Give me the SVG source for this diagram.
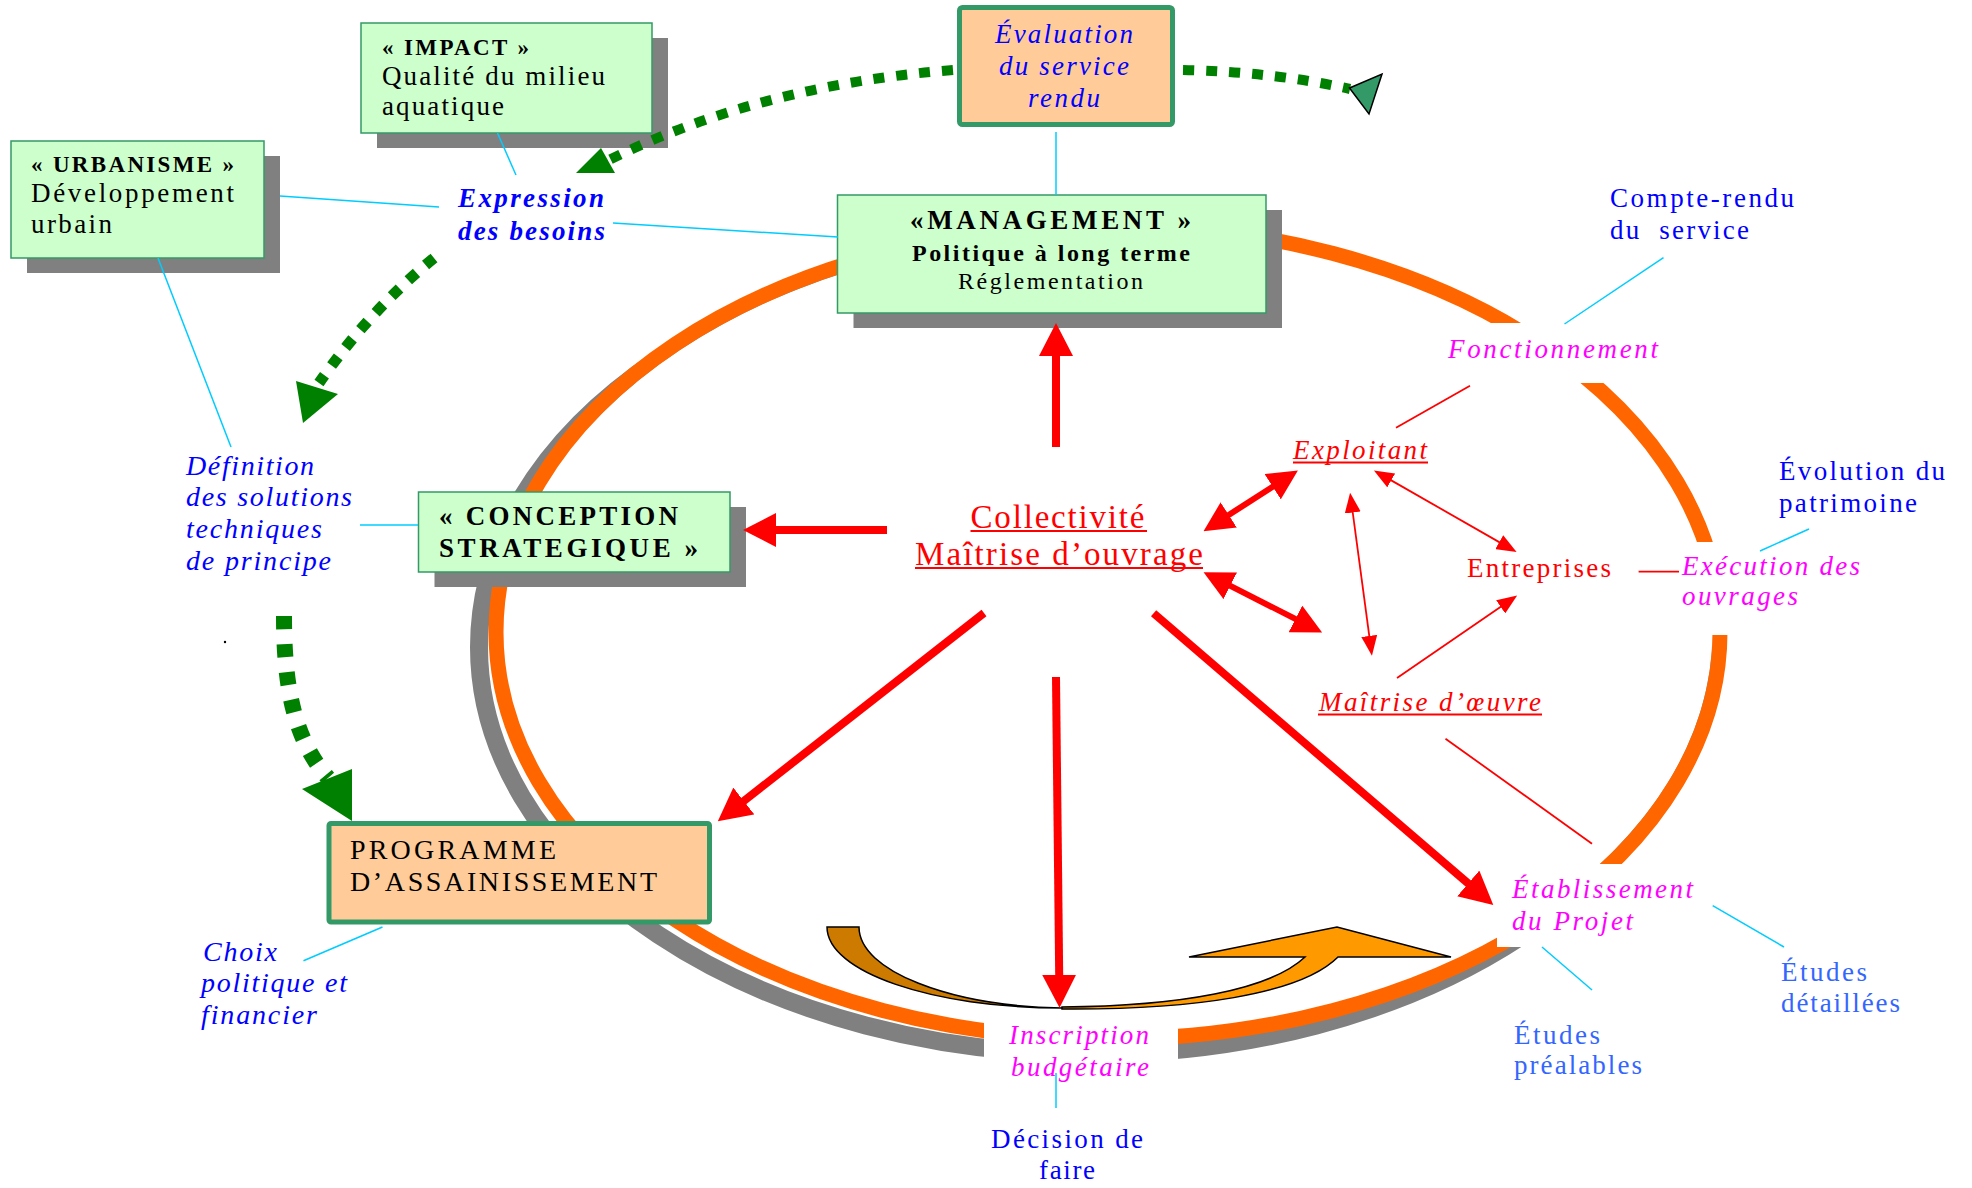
<svg xmlns="http://www.w3.org/2000/svg" width="1972" height="1188" viewBox="0 0 1972 1188">
  <defs>
    <style>
      text { font-family: "Liberation Serif", "Times New Roman", serif; }
      .box { fill: #CCFFCC; stroke: #339966; stroke-width: 1.5; }
      .peach { fill: #FFCC99; stroke: #339966; stroke-width: 5; }
      .shadow { fill: #808080; }
      .k { fill: #000000; }
      .b { font-weight: bold; }
      .i { font-style: italic; }
      .blue { fill: #0000FF; }
      .lblue { fill: #3366FF; }
      .mag { fill: #FF00FF; }
      .red { fill: #FF0000; }
      .ul { stroke: #FF0000; stroke-width: 2; }
      .cyan { stroke: #00CCFF; stroke-width: 1.5; fill: none; }
      .thin { stroke: #FF0000; stroke-width: 1.8; fill: none; }
      .thick { stroke: #FF0000; stroke-width: 8; fill: none; }
      .mid { stroke: #FF0000; stroke-width: 6; fill: none; }
      .dots { fill: none; stroke: #008000; }
      .gap { fill: #FFFFFF; }
    </style>
    <marker id="hBig" markerUnits="userSpaceOnUse" viewBox="0 0 33 34" markerWidth="33" markerHeight="34" refX="1" refY="17" orient="auto">
      <path d="M0,0 L33,17 L0,34 Z" fill="#FF0000"/>
    </marker>
    <marker id="hMid" markerUnits="userSpaceOnUse" viewBox="0 0 30 30" markerWidth="30" markerHeight="30" refX="1" refY="15" orient="auto-start-reverse">
      <path d="M0,0 L30,15 L0,30 Z" fill="#FF0000"/>
    </marker>
    <marker id="hSmall" markerUnits="userSpaceOnUse" viewBox="0 0 20 16" markerWidth="20" markerHeight="16" refX="1" refY="8" orient="auto-start-reverse">
      <path d="M0,0 L20,8 L0,16 Z" fill="#FF0000"/>
    </marker>
    <!-- hides the ring shadow wherever it would fall inside the ring -->
    <mask id="outsideRing" maskUnits="userSpaceOnUse" x="0" y="0" width="1972" height="1188">
      <rect width="1972" height="1188" fill="#FFFFFF"/>
      <ellipse cx="1108" cy="632" rx="604.5" ry="399.5" fill="#000000"/>
    </mask>
  </defs>

  <rect width="1972" height="1188" fill="#FFFFFF"/>

  <!-- management cycle ring with its drop shadow, broken where the stage labels sit -->
  <g id="cycle">
    <ellipse cx="1091" cy="647" rx="612" ry="407" fill="none" stroke="#808080" stroke-width="18" mask="url(#outsideRing)"/>
    <ellipse cx="1108" cy="632" rx="612" ry="407" fill="none" stroke="#FF6600" stroke-width="15"/>
    <rect class="gap" x="1440" y="323" width="230" height="60"/>
    <rect class="gap" x="1660" y="542" width="210" height="93"/>
    <rect class="gap" x="1497" y="864" width="205" height="83"/>
    <rect class="gap" x="984" y="995" width="194" height="95"/>
  </g>

  <!-- curved "loop" arrow inside the ring -->
  <g id="loop-arrow" stroke="#000000" stroke-width="1.5" stroke-linejoin="miter">
    <path d="M827,927 L859,927 C859,971 950,1006 1062,1008 C932,1008 827,972 827,927 Z" fill="#CC7A00"/>
    <path d="M1062,1007 C1180,1006 1270,990 1305,957 L1189,957 L1337,927 L1451,957 L1338,957 C1300,995 1190,1010 1062,1009 Z" fill="#FF9900"/>
  </g>

  <!-- boxes -->
  <g id="node-impact">
    <rect class="shadow" x="377" y="38" width="291" height="110"/>
    <rect class="box" x="361" y="23" width="291" height="110"/>
    <text class="k b" x="382" y="55" font-size="23" textLength="147" lengthAdjust="spacing">« IMPACT »</text>
    <text class="k" x="382" y="85" font-size="27" textLength="223" lengthAdjust="spacing">Qualité du milieu</text>
    <text class="k" x="382" y="115" font-size="27" textLength="122" lengthAdjust="spacing">aquatique</text>
  </g>

  <g id="node-urbanisme">
    <rect class="shadow" x="27" y="156" width="253" height="117"/>
    <rect class="box" x="11" y="141" width="253" height="117"/>
    <text class="k b" x="31" y="172" font-size="23" textLength="203" lengthAdjust="spacing">« URBANISME »</text>
    <text class="k" x="31" y="202" font-size="27" textLength="203" lengthAdjust="spacing">Développement</text>
    <text class="k" x="31" y="233" font-size="27" textLength="81" lengthAdjust="spacing">urbain</text>
  </g>

  <g id="node-evaluation">
    <rect class="peach" x="959.5" y="7.5" width="213" height="117" rx="3"/>
    <text class="blue i" x="995" y="43" font-size="27" textLength="138" lengthAdjust="spacing">Évaluation</text>
    <text class="blue i" x="999" y="75" font-size="27" textLength="130" lengthAdjust="spacing">du service</text>
    <text class="blue i" x="1028" y="107" font-size="27" textLength="72" lengthAdjust="spacing">rendu</text>
  </g>

  <g id="node-management">
    <rect class="shadow" x="853.5" y="210" width="428.5" height="118"/>
    <rect class="box" x="837.5" y="195" width="428.5" height="118"/>
    <text class="k b" x="910" y="229" font-size="27" textLength="281" lengthAdjust="spacing">«MANAGEMENT »</text>
    <text class="k b" x="912" y="261" font-size="24" textLength="278" lengthAdjust="spacing">Politique à long terme</text>
    <text class="k" x="958" y="289" font-size="24" textLength="185" lengthAdjust="spacing">Réglementation</text>
  </g>

  <g id="node-conception">
    <rect class="shadow" x="434.5" y="507" width="311.5" height="80"/>
    <rect class="box" x="418.5" y="492" width="311.5" height="80"/>
    <text class="k b" x="439" y="525" font-size="27" textLength="239" lengthAdjust="spacing">« CONCEPTION</text>
    <text class="k b" x="439" y="557" font-size="27" textLength="259" lengthAdjust="spacing">STRATEGIQUE »</text>
  </g>

  <g id="node-programme">
    <rect class="peach" x="329" y="823.5" width="380.5" height="98.5" rx="2"/>
    <text class="k" x="350" y="859" font-size="28" textLength="206" lengthAdjust="spacing">PROGRAMME</text>
    <text class="k" x="350" y="891" font-size="28" textLength="307" lengthAdjust="spacing">D’ASSAINISSEMENT</text>
  </g>

  <!-- actors (underlined) -->
  <g id="node-collectivite">
    <text class="red" x="970.5" y="528" font-size="33" textLength="174" lengthAdjust="spacing">Collectivité</text>
    <text class="red" x="915" y="565" font-size="33" textLength="288" lengthAdjust="spacing">Maîtrise d’ouvrage</text>
    <line class="ul" x1="970.5" y1="531" x2="1147" y2="531"/>
    <line class="ul" x1="915" y1="568" x2="1203" y2="568"/>
  </g>
  <g id="node-exploitant">
    <text class="red i" x="1293" y="459" font-size="27" textLength="134" lengthAdjust="spacing">Exploitant</text>
    <line class="ul" x1="1293" y1="462.5" x2="1428" y2="462.5"/>
  </g>
  <g id="node-entreprises">
    <text class="red" x="1467" y="577" font-size="27" textLength="144" lengthAdjust="spacing">Entreprises</text>
  </g>
  <g id="node-maitrise-oeuvre">
    <text class="red i" x="1319" y="711" font-size="27" textLength="222" lengthAdjust="spacing">Maîtrise d’œuvre</text>
    <line class="ul" x1="1318" y1="714.5" x2="1542" y2="714.5"/>
  </g>

  <!-- stages of the cycle -->
  <g id="node-expression">
    <text class="blue b i" x="458" y="207" font-size="27" textLength="146" lengthAdjust="spacing">Expression</text>
    <text class="blue b i" x="458" y="240" font-size="27" textLength="147" lengthAdjust="spacing">des besoins</text>
  </g>
  <g id="node-definition">
    <text class="blue i" x="186" y="475" font-size="28" textLength="128" lengthAdjust="spacing">Définition</text>
    <text class="blue i" x="186" y="506" font-size="28" textLength="166" lengthAdjust="spacing">des solutions</text>
    <text class="blue i" x="186" y="538" font-size="28" textLength="136" lengthAdjust="spacing">techniques</text>
    <text class="blue i" x="186" y="570" font-size="28" textLength="145" lengthAdjust="spacing">de principe</text>
  </g>
  <g id="node-choix">
    <text class="blue i" x="203" y="961" font-size="28" textLength="74" lengthAdjust="spacing">Choix</text>
    <text class="blue i" x="201" y="992" font-size="28" textLength="146" lengthAdjust="spacing">politique et</text>
    <text class="blue i" x="201" y="1024" font-size="28" textLength="116" lengthAdjust="spacing">financier</text>
  </g>
  <g id="node-fonctionnement">
    <text class="mag i" x="1448" y="358" font-size="27" textLength="210" lengthAdjust="spacing">Fonctionnement</text>
  </g>
  <g id="node-compte-rendu">
    <text class="blue" x="1610" y="207" font-size="27" textLength="184" lengthAdjust="spacing">Compte-rendu</text>
    <text class="blue" x="1610" y="239" font-size="27" textLength="139" lengthAdjust="spacing" style="white-space:pre">du  service</text>
  </g>
  <g id="node-execution">
    <text class="mag i" x="1682" y="575" font-size="27" textLength="178" lengthAdjust="spacing">Exécution des</text>
    <text class="mag i" x="1682" y="605" font-size="27" textLength="116" lengthAdjust="spacing">ouvrages</text>
  </g>
  <g id="node-evolution">
    <text class="blue" x="1779" y="480" font-size="27" textLength="166" lengthAdjust="spacing">Évolution du</text>
    <text class="blue" x="1779" y="512" font-size="27" textLength="138" lengthAdjust="spacing">patrimoine</text>
  </g>
  <g id="node-etablissement">
    <text class="mag i" x="1512" y="898" font-size="27" textLength="181" lengthAdjust="spacing">Établissement</text>
    <text class="mag i" x="1512" y="930" font-size="27" textLength="121" lengthAdjust="spacing">du Projet</text>
  </g>
  <g id="node-etudes-prealables">
    <text class="lblue" x="1514" y="1044" font-size="27" textLength="86" lengthAdjust="spacing">Études</text>
    <text class="lblue" x="1514" y="1074" font-size="27" textLength="128" lengthAdjust="spacing">préalables</text>
  </g>
  <g id="node-etudes-detaillees">
    <text class="lblue" x="1781" y="981" font-size="27" textLength="86" lengthAdjust="spacing">Études</text>
    <text class="lblue" x="1781" y="1012" font-size="27" textLength="119" lengthAdjust="spacing">détaillées</text>
  </g>
  <g id="node-inscription">
    <text class="mag i" x="1009" y="1044" font-size="27" textLength="140" lengthAdjust="spacing">Inscription</text>
    <text class="mag i" x="1011" y="1076" font-size="27" textLength="138" lengthAdjust="spacing">budgétaire</text>
  </g>
  <g id="node-decision">
    <text class="blue" x="991" y="1148" font-size="27" textLength="152" lengthAdjust="spacing">Décision de</text>
    <text class="blue" x="1039" y="1179" font-size="27" textLength="56" lengthAdjust="spacing">faire</text>
  </g>

  <circle cx="225" cy="642" r="1.2" fill="#000000"/>

  <!-- connectors -->
  <g id="connectors">
    <!-- label leaders -->
    <line class="cyan" x1="280" y1="196" x2="439" y2="207"/>
    <line class="cyan" x1="497.5" y1="133" x2="516" y2="175"/>
    <line class="cyan" x1="613" y1="223" x2="838" y2="237"/>
    <line class="cyan" x1="158" y1="258" x2="231" y2="447"/>
    <line class="cyan" x1="360" y1="525" x2="418" y2="525"/>
    <line class="cyan" x1="1056" y1="132" x2="1056" y2="195"/>
    <line class="cyan" x1="1663.5" y1="257.7" x2="1564.5" y2="324"/>
    <line class="cyan" x1="1809" y1="529" x2="1760" y2="551"/>
    <line class="cyan" x1="382.5" y1="927" x2="303.5" y2="960.7"/>
    <line class="cyan" x1="1056" y1="1073" x2="1056" y2="1108"/>
    <line class="cyan" x1="1542" y1="947" x2="1592" y2="990"/>
    <line class="cyan" x1="1712.7" y1="905.6" x2="1784" y2="947"/>

    <!-- actor to stage links -->
    <line class="thin" x1="1470" y1="385.7" x2="1396" y2="427.7"/>
    <line class="thin" x1="1638.6" y1="571.7" x2="1679" y2="571.7"/>
    <line class="thin" x1="1445.5" y1="738.7" x2="1592" y2="843.7"/>

    <!-- relations between actors -->
    <line class="thin" x1="1390.4" y1="479.9" x2="1500.1" y2="542.6" marker-start="url(#hSmall)" marker-end="url(#hSmall)"/>
    <line class="thin" x1="1352.6" y1="511.5" x2="1369.4" y2="636.9" marker-start="url(#hSmall)" marker-end="url(#hSmall)"/>
    <line class="thin" x1="1397" y1="678" x2="1501.5" y2="606.3" marker-end="url(#hSmall)"/>
    <line class="mid" x1="1227.9" y1="515.5" x2="1273.5" y2="486.2" marker-start="url(#hMid)" marker-end="url(#hMid)"/>
    <line class="mid" x1="1229.4" y1="585.3" x2="1296.3" y2="619.4" marker-start="url(#hMid)" marker-end="url(#hMid)"/>

    <!-- from the Collectivité -->
    <line class="thick" x1="1056" y1="447" x2="1056" y2="355" stroke-width="9" marker-end="url(#hBig)"/>
    <line class="thick" x1="887" y1="530" x2="775" y2="530" stroke-width="7" marker-end="url(#hBig)"/>
    <line class="thick" x1="984" y1="613" x2="743" y2="801.6" stroke-width="7" marker-end="url(#hBig)"/>
    <line class="thick" x1="1056" y1="677" x2="1059.2" y2="975.7" marker-end="url(#hBig)"/>
    <line class="thick" x1="1153.6" y1="613.3" x2="1469" y2="884.1" marker-end="url(#hBig)"/>

    <!-- dotted feedback flows -->
    <path class="dots" d="M953,70 Q760,85 607,161" stroke-width="10" stroke-dasharray="11 12"/>
    <polygon points="576,173 615,173 601,148" fill="#008000"/>
    <path class="dots" d="M1183,70 Q1275,72 1350,89" stroke-width="10" stroke-dasharray="11 12"/>
    <polygon points="1349.5,88 1382,74 1369,114" fill="#339966" stroke="#000000" stroke-width="1.5"/>
    <path class="dots" d="M434,258 Q370,310 319,383" stroke-width="11" stroke-dasharray="11 12"/>
    <polygon points="296,381 338,394 303,423" fill="#008000"/>
    <path class="dots" d="M284,616 C284,690 295,740 328,778" stroke-width="16" stroke-dasharray="13 15"/>
    <polygon points="302,789 352,769 352,821" fill="#008000"/>
  </g>
</svg>
